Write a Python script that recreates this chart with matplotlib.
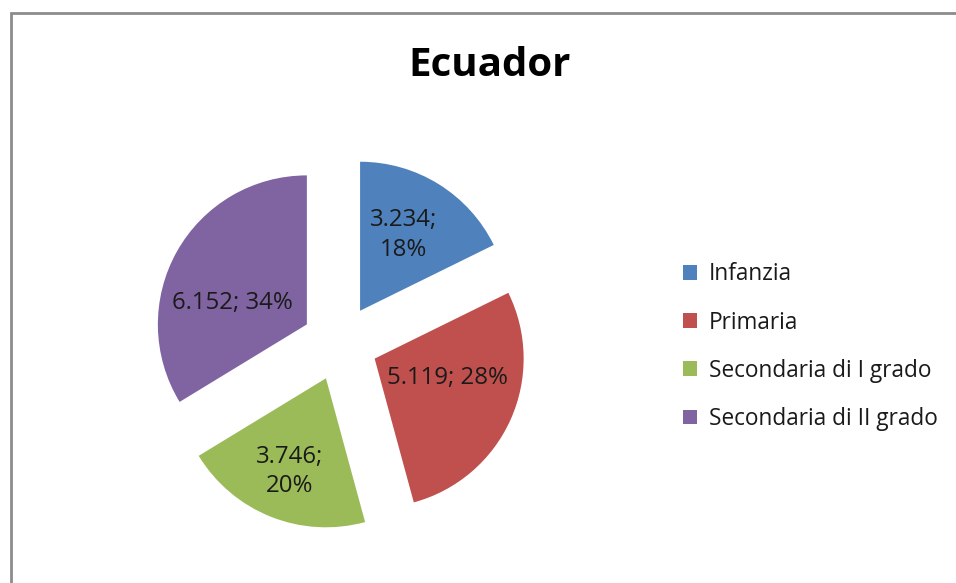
import matplotlib
matplotlib.use("Agg")
import matplotlib.pyplot as plt
from matplotlib.patches import Rectangle
import numpy as np

categories = ["Infanzia", "Primaria", "Secondaria di I grado", "Secondaria di II grado"]
values = [3234, 5119, 3746, 6152]
label_texts = ["3.234;\n18%", "5.119; 28%", "3.746;\n20%", "6.152; 34%"]
title = "Ecuador"

colors = ["#4F81BD", "#C0504D", "#9BBB59", "#8064A2"]
label_r = [0.584, 0.507, 0.671, 0.517]
label_dang = [1.6, 6.2, 0.4, 9.0]

plt.rcParams['font.family'] = ['Open Sans', 'DejaVu Sans']

W, H = 956, 583
fig = plt.figure(figsize=(W / 100, H / 100), dpi=100)
ax = fig.add_axes([0, 0, 1, 1])

cx, cy, R = 340, H - 343, 149
expl = 38
explode = [expl] * 4
wedges, _ = ax.pie(values, colors=colors, startangle=90, counterclock=False,
                   radius=R, center=(cx, cy), explode=explode,
                   wedgeprops=dict(linewidth=0))
ax.set_xlim(0, W)
ax.set_ylim(0, H)
ax.set_aspect('equal')
ax.axis('off')

for w, txt, lr, da, e in zip(wedges, label_texts, label_r, label_dang, explode):
    ang = np.deg2rad((w.theta1 + w.theta2) / 2 + da)
    d = e + R * lr
    ax.text(cx + d * np.cos(ang), cy + d * np.sin(ang), txt, ha='center', va='center',
            fontsize=17.3, color='#1a1a1a', linespacing=1.3)

ax.text(490, H - 66, title, ha='center', va='center', fontsize=29, fontweight='bold',
        color='black')

# chart border
ax.add_patch(Rectangle((11, -10), W, H - 13 + 10, fill=False, edgecolor='#8c8c8c', linewidth=2))

leg = ax.legend(wedges, categories, loc='upper left', bbox_to_anchor=(672 / W, 1 - 251 / H),
                frameon=False, fontsize=16.3, handlelength=0.62, handleheight=0.62,
                handletextpad=0.5, labelspacing=1.07, borderpad=0)
for t in leg.get_texts():
    t.set_color('#1a1a1a')

fig.savefig("out.png", dpi=100)
